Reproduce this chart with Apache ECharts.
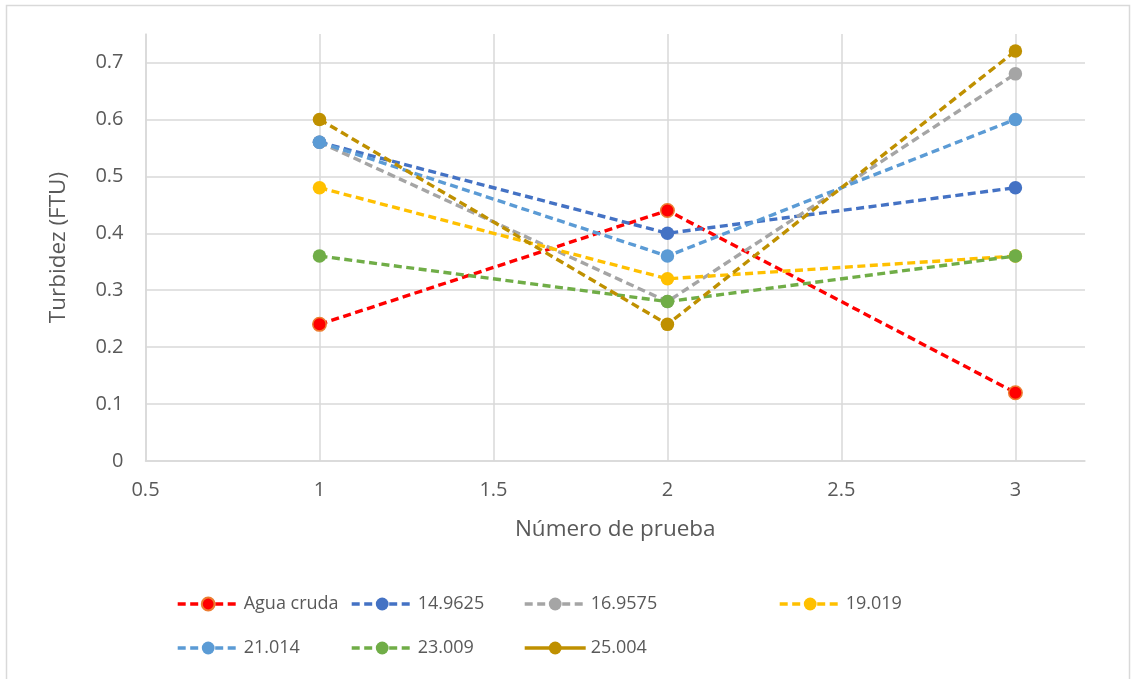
<!DOCTYPE html>
<html>
<head>
<meta charset="utf-8">
<title>Turbidez por número de prueba</title>
<script src="https://cdn.jsdelivr.net/npm/echarts@6/dist/echarts.min.js"></script>
<style>
  html, body { margin: 0; padding: 0; background: #ffffff; }
  #chart { width: 1133px; height: 679px; }
</style>
</head>
<body>
<div id="chart"></div>
<script>
// Número de prueba (x) and turbidity readings (FTU) per dose
const pruebas = [1, 2, 3];
const seriesNames = ['Agua cruda', '14.9625', '16.9575', '19.019', '21.014', '23.009', '25.004'];
const aguaCruda = [0.24, 0.44, 0.12];
const d14_9625 = [0.56, 0.40, 0.48];
const d16_9575 = [0.56, 0.28, 0.68];
const d19_019 = [0.48, 0.32, 0.36];
const d21_014 = [0.56, 0.36, 0.60];
const d23_009 = [0.36, 0.28, 0.36];
const d25_004 = [0.60, 0.24, 0.72];
const values = [aguaCruda, d14_9625, d16_9575, d19_019, d21_014, d23_009, d25_004];

const colors = ['#FF0000', '#4472C4', '#A5A5A5', '#FFC000', '#5B9BD5', '#70AD47', '#BF9000'];
const FONT = '"Open Sans", "Liberation Sans", sans-serif';
const TEXT = '#595959';
const GRIDC = '#d9d9d9';
const DASH = [8, 4.5];
const LINE_W = 3.4;

const series = seriesNames.map((name, i) => ({
  name: name,
  type: 'line',
  data: pruebas.map((x, k) => [x, values[i][k]]),
  symbol: 'circle',
  symbolSize: 13.5,
  lineStyle: { color: colors[i], width: LINE_W, type: DASH },
  itemStyle: {
    color: colors[i],
    borderColor: i === 0 ? '#ED7D31' : colors[i],
    borderWidth: i === 0 ? 1.5 : 0
  },
  emphasis: { disabled: true },
  animation: false
}));

// legend slots: [left, top]
const legendPos = [
  [176, 595], [350, 595], [523, 595], [778, 595],
  [176, 639], [350, 639], [523, 639]
];
const legends = seriesNames.map((name, i) => ({
  data: [name],
  left: legendPos[i][0],
  top: legendPos[i][1],
  padding: 0,
  itemWidth: 61,
  itemHeight: 16,
  selectedMode: false,
  textStyle: { fontFamily: FONT, fontSize: 18, color: TEXT },
  lineStyle: {
    color: colors[i],
    width: LINE_W,
    type: i === 6 ? 'solid' : DASH
  }
}));

const chart = echarts.init(document.getElementById('chart'), null, { renderer: 'canvas' });
chart.setOption({
  backgroundColor: '#ffffff',
  animation: false,
  graphic: [{
    type: 'rect',
    shape: { x: 6.5, y: 5.5, width: 1123, height: 700 },
    style: { fill: 'none', stroke: GRIDC, lineWidth: 1.5 },
    silent: true,
    z: -1
  }],
  grid: { left: 145.5, right: 48, top: 34, bottom: 218, containLabel: false },
  legend: legends,
  xAxis: {
    type: 'value',
    min: 0.5,
    max: 3.2,
    interval: 0.5,
    name: 'Número de prueba',
    nameLocation: 'middle',
    nameGap: 57,
    nameTextStyle: { fontFamily: FONT, fontSize: 22.5, color: TEXT },
    axisLine: { show: true, lineStyle: { color: GRIDC, width: 1.5 } },
    axisTick: { show: false },
    axisLabel: { fontFamily: FONT, fontSize: 20, color: TEXT, margin: 19, showMaxLabel: false },
    splitLine: { show: true, showMaxLine: false, lineStyle: { color: GRIDC, width: 1.5 } }
  },
  yAxis: {
    type: 'value',
    min: 0,
    max: 0.75,
    interval: 0.1,
    name: 'Turbidez (FTU)',
    nameLocation: 'middle',
    nameGap: 75,
    nameTextStyle: { fontFamily: FONT, fontSize: 22.5, color: TEXT },
    axisLine: { show: true, lineStyle: { color: GRIDC, width: 1.5 } },
    axisTick: { show: false },
    axisLabel: { fontFamily: FONT, fontSize: 20, color: TEXT, margin: 22, showMaxLabel: false },
    splitLine: { show: true, showMaxLine: false, lineStyle: { color: GRIDC, width: 1.5 } }
  },
  series: series
});
</script>
</body>
</html>
